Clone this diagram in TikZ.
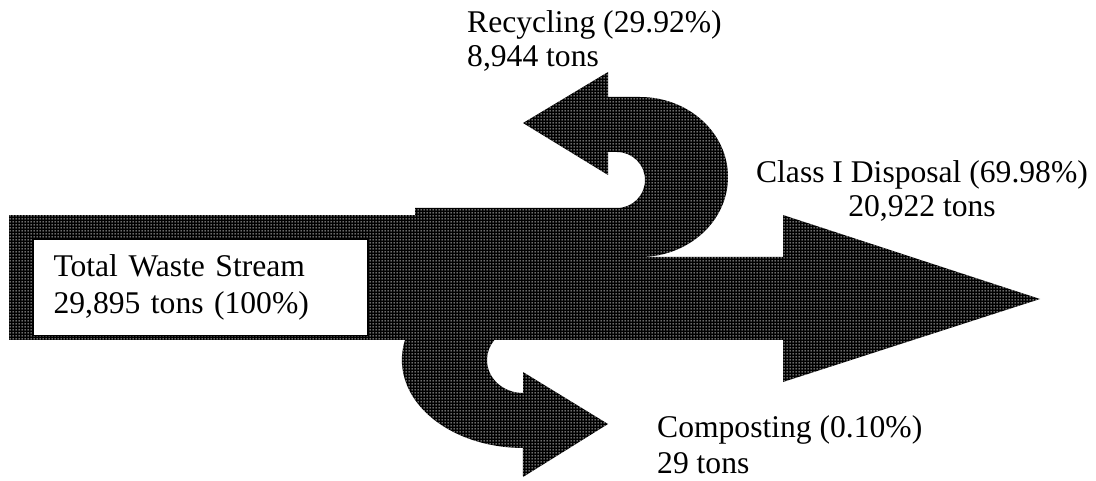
\documentclass[tikz,border=0pt]{standalone}
\usepackage{fontspec}
\setmainfont{Liberation Serif}
\usetikzlibrary{patterns.meta}
\tikzdeclarepattern{
  name=wdots,
  type=uncolored,
  bounding box={(0pt,0pt) and (3pt,3pt)},
  tile size={(3pt,3pt)},
  code={\pgfpathrectangle{\pgfpoint{0.8pt}{0.8pt}}{\pgfpoint{1.3pt}{1.3pt}}\pgfusepath{fill}}
}
\begin{document}
\begin{tikzpicture}[x=1pt,y=-1pt,
  flow/.style={fill=black, postaction={pattern=wdots, pattern color=white}},
  lbl/.style={inner sep=0pt}]
\useasboundingbox (0,0) rectangle (1096,481);
% main bar
\path[flow] (9,215) rectangle (420,340);
% disposal arrow
\path[flow] (415,257) -- (783,257) -- (783,215) -- (1040,299) -- (783,382) -- (783,340) -- (415,340) -- cycle;
% recycling U-turn arrow
\path[flow] (415,208) -- (617,208) arc[start angle=90, end angle=-90, radius=28] -- (608,152) -- (608,175) -- (523,123) -- (608,72) -- (608,97) -- (640,97) arc[start angle=-90, end angle=90, x radius=88, y radius=80] -- (415,257) -- cycle;
% composting arrow
\path[flow] (405,335) -- (405,340) arc[start angle=193.1, end angle=90, x radius=121, y radius=88] -- (523,477) -- (608,424) -- (523,372) -- (523,393) arc[start angle=90, end angle=217.3, x radius=36, y radius=33] -- (494,335) -- cycle;
% label box
\node[draw=black, line width=1pt, fill=white, anchor=north west, minimum width=334pt, minimum height=96pt, text width=294pt, inner xsep=20pt, inner ysep=0pt, align=left, font=\fontsize{31.6pt}{37pt}\selectfont] (total) at (33,239) {Total Waste Stream\\29,895 tons (100\%)};
\node[lbl, anchor=base west, align=left, font=\fontsize{31.6pt}{34pt}\selectfont] (rec) at (467,67) {Recycling (29.92\%)\\8,944 tons};
\node[lbl, anchor=base, align=center, font=\fontsize{31.6pt}{34pt}\selectfont] (dis) at (922,217) {Class I Disposal (69.98\%)\\20,922 tons};
\node[lbl, anchor=base west, align=left, font=\fontsize{31.6pt}{36pt}\selectfont] (comp) at (657,473) {Composting (0.10\%)\\29 tons};
\end{tikzpicture}
\end{document}
